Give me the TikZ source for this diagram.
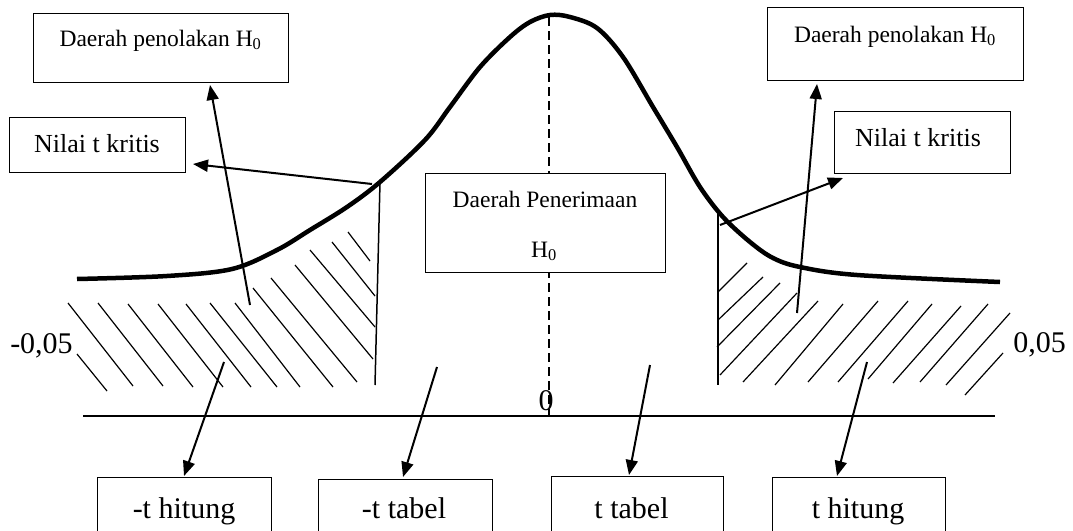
\documentclass[tikz,border=0pt]{standalone}
\usepackage{fontspec}
\setmainfont{Liberation Serif}
\usetikzlibrary{arrows.meta}
\begin{document}
\begin{tikzpicture}[x=1pt,y=-1pt,
  box/.style={draw, fill=white, line width=0.9pt, inner sep=0pt},
  txt/.style={anchor=base, inner sep=0pt},
  arr/.style={line width=2pt, -{Triangle[length=15pt,width=12pt]}},
  hatch/.style={line width=1.2pt},
  small/.style={font=\fontsize{23.5}{28}\selectfont},
  mid/.style={font=\fontsize{26}{30}\selectfont},
  big/.style={font=\fontsize{30}{34}\selectfont}]
\clip (0,0) rectangle (1073,530);
\fill[white] (0,0) rectangle (1073,530);

% axis and dashed centre line
\draw[line width=1.5pt] (83,416) -- (995,416);
\draw[line width=1.5pt, dash pattern=on 9pt off 5pt] (549,17) -- (549,416);

% critical lines
\draw[line width=1.5pt] (380,182) -- (375,385);
\draw[line width=1.5pt] (718,213) -- (718,385);

% hatching left
\foreach \a/\b/\c/\d in {68/303/133/386, 98/303/163/386, 128/304/193/387, 158/304/223/387,
  186/304/251/387, 210/303/277/387, 235/303/300/387, 253/288/333/387, 271/278/357/382,
  295/265/373/359, 310/250/375/327, 332/242/375/296, 348/232/370/261, 77/354/107/391}
  \draw[hatch] (\a,\b) -- (\c,\d);
% hatching right
\foreach \a/\b/\c/\d in {718/292/747/263, 718/320/763/277, 717/347/780/283, 720/375/797/293,
  743/382/818/301, 775/385/843/304, 808/382/878/301, 838/382/908/301, 868/379/932/304,
  893/383/961/306, 920/382/988/304, 946/385/1010/313, 965/395/1003/353}
  \draw[hatch] (\a,\b) -- (\c,\d);

% curve
\draw[line width=4.5pt, line join=round] plot[smooth, tension=0.55] coordinates {
  (77,279) (167,276) (232,269) (277,250) (310,230) (347,207) (380,182) (425,140)
  (450,107) (480,67) (510,37) (530,22) (550,15) (570,17) (597,28) (623,57) (653,107)
  (677,147) (700,187) (723,217) (750,242) (773,258) (800,267) (857,275) (1000,282)};

% boxes
\node[box, minimum width=255pt, minimum height=69pt] (tl) at (160.5,47.5) {};
\node[box, minimum width=256pt, minimum height=73pt] (tr) at (895,43.5) {};
\node[box, minimum width=176pt, minimum height=55pt] (nl) at (97,144.5) {};
\node[box, minimum width=176pt, minimum height=62pt] (nr) at (922,142) {};
\node[box, minimum width=240pt, minimum height=99pt] (acc) at (545,222.5) {};
\node[box, minimum width=174pt, minimum height=83pt] (b1) at (184,518.5) {};
\node[box, minimum width=174pt, minimum height=81pt] (b2) at (405,519.5) {};
\node[box, minimum width=172pt, minimum height=84pt] (b3) at (637,518) {};
\node[box, minimum width=173pt, minimum height=83pt] (b4) at (858.5,518.5) {};

% texts
\node[txt, small] (tltx) at (160.5,46) {Daerah penolakan H\textsubscript{0}};
\node[txt, small] (trtx) at (895,42) {Daerah penolakan H\textsubscript{0}};
\node[txt, mid] (nltx) at (97,152) {Nilai t kritis};
\node[txt, mid] (nrtx) at (918,146) {Nilai t kritis};
\node[txt, small] (acctx1) at (545,207) {Daerah Penerimaan};
\node[txt, small] (acctx2) at (544,257) {H\textsubscript{0}};
\node[txt, big] (b1tx) at (184,518) {-t hitung};
\node[txt, big] (b2tx) at (404,518) {-t tabel};
\node[txt, big] (b3tx) at (631.5,518) {t tabel};
\node[txt, big] (b4tx) at (858,518) {t hitung};
\node[txt, big] (lneg) at (41.5,353) {-0,05};
\node[txt, big] (lpos) at (1039.5,352) {0,05};
\node[txt, big] (lzero) at (546,410) {0};

% arrow ends
\coordinate (s1) at (250,305); \coordinate (e1) at (210,85);
\coordinate (s2) at (372,184); \coordinate (e2) at (193,164);
\coordinate (s3) at (720,225); \coordinate (e3) at (843,178);
\coordinate (s4) at (797,313); \coordinate (e4) at (817,84);
\coordinate (s5) at (224,362); \coordinate (e5) at (184,476);
\coordinate (s6) at (437,367); \coordinate (e6) at (403,477);
\coordinate (s7) at (650,365); \coordinate (e7) at (629,475);
\coordinate (s8) at (867,362); \coordinate (e8) at (837,476);
\draw[arr] (s1) -- (e1);
\draw[arr] (s2) -- (e2);
\draw[arr] (s3) -- (e3);
\draw[arr] (s4) -- (e4);
\draw[arr] (s5) -- (e5);
\draw[arr] (s6) -- (e6);
\draw[arr] (s7) -- (e7);
\draw[arr] (s8) -- (e8);
\end{tikzpicture}
\end{document}
